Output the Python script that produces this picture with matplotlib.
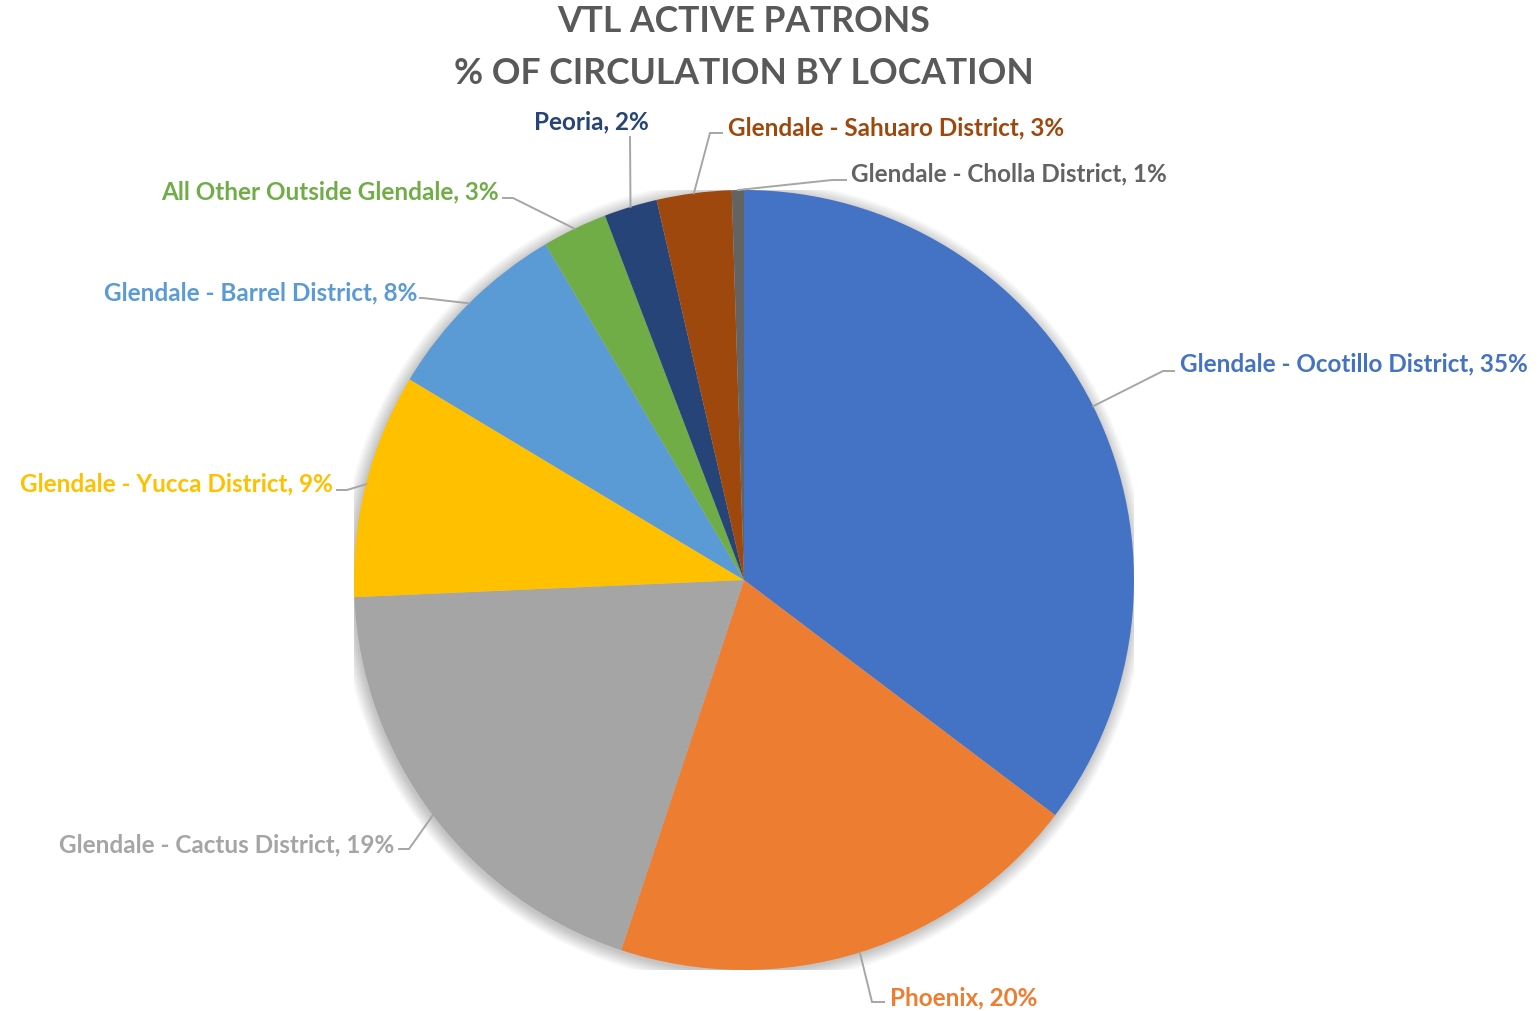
import matplotlib
matplotlib.use("Agg")
import matplotlib.pyplot as plt
from matplotlib.patches import Circle
import numpy as np

plt.rcParams['font.family'] = ['Lato', 'DejaVu Sans']

# ---- data ----
categories = [
    "Glendale - Ocotillo District",
    "Phoenix",
    "Glendale - Cactus District",
    "Glendale - Yucca District",
    "Glendale - Barrel District",
    "All Other Outside Glendale",
    "Peoria",
    "Glendale - Sahuaro District",
    "Glendale - Cholla District",
]
values = [35.3, 19.8, 19.2, 9.3, 7.9, 2.7, 2.2, 3.1, 0.5]
colors = ["#4472C4", "#ED7D31", "#A5A5A5", "#FFC000", "#5B9BD5",
          "#70AD47", "#264478", "#9E480E", "#636363"]
title_lines = ["VTL ACTIVE PATRONS", "% OF CIRCULATION BY LOCATION"]

# ---- layout (pixels in a 1539x1011 canvas) ----
W, H = 1539, 1011
CX, CY, R = 744, 580, 390
# label anchor (x, y, ha), leader knee (x, y), leader end (x, y)
label_layout = [
    (1180, 364, "left",   (1163, 371), (1174, 371)),
    (890, 998, "left",    (872, 1002), (884, 1002)),
    (394, 845, "right",   (409, 849), (399, 849)),
    (333, 484, "right",   (347, 490), (337, 490)),
    (417, 293, "right",   (423, 298), (420, 298)),
    (499, 192, "right",   (513, 198), (503, 198)),
    (591, 122, "center",  (630, 137), (630, 137)),
    (728, 128, "left",    (710, 133), (722, 133)),
    (851, 174, "left",    (832, 180), (846, 180)),
]

fig = plt.figure(figsize=(W / 100, H / 100), dpi=100)
fig.patch.set_facecolor("white")
ax = fig.add_axes([(CX - R) / W, (H - (CY + R)) / H, 2 * R / W, 2 * R / H])


def to_data(px, py):
    return (px - CX) / R, (CY - py) / R


# soft shadow
for i in range(12):
    ax.add_patch(Circle((-0.004, -0.006), 1.0 + 0.003 * i, facecolor="black",
                        edgecolor="none", alpha=0.018, zorder=0))

wedges, _ = ax.pie(values, colors=colors, startangle=90, counterclock=False,
                   radius=1.0, wedgeprops=dict(linewidth=0, edgecolor="none"))
for w in wedges:
    w.set_zorder(2)
ax.set_xlim(-1, 1)
ax.set_ylim(-1, 1)
ax.set_aspect("equal")
ax.axis("off")

for w, cat, val, col, lay in zip(wedges, categories, values, colors, label_layout):
    lx, ly, ha, knee, end = lay
    mid = np.deg2rad((w.theta1 + w.theta2) / 2)
    sx, sy = np.cos(mid), np.sin(mid)
    kx, ky = to_data(*knee)
    ex, ey = to_data(*end)
    ax.plot([sx, kx, ex], [sy, ky, ey], color="#A6A6A6", lw=1.4,
            clip_on=False, zorder=3, solid_joinstyle="miter")
    tx, ty = to_data(lx, ly)
    pct = int(val + 0.5)
    ax.text(tx, ty, f"{cat}, {pct}%", ha=ha, va="center", color=col,
            fontsize=17.5, fontweight="bold", clip_on=False, zorder=4)

fig.text(744 / W, 1 - 21 / H, title_lines[0], ha="center", va="center",
         color="#595959", fontsize=25.6, fontweight="bold")
fig.text(744 / W, 1 - 73 / H, title_lines[1], ha="center", va="center",
         color="#595959", fontsize=25.6, fontweight="bold")

fig.savefig("out.png", dpi=100, facecolor="white")
